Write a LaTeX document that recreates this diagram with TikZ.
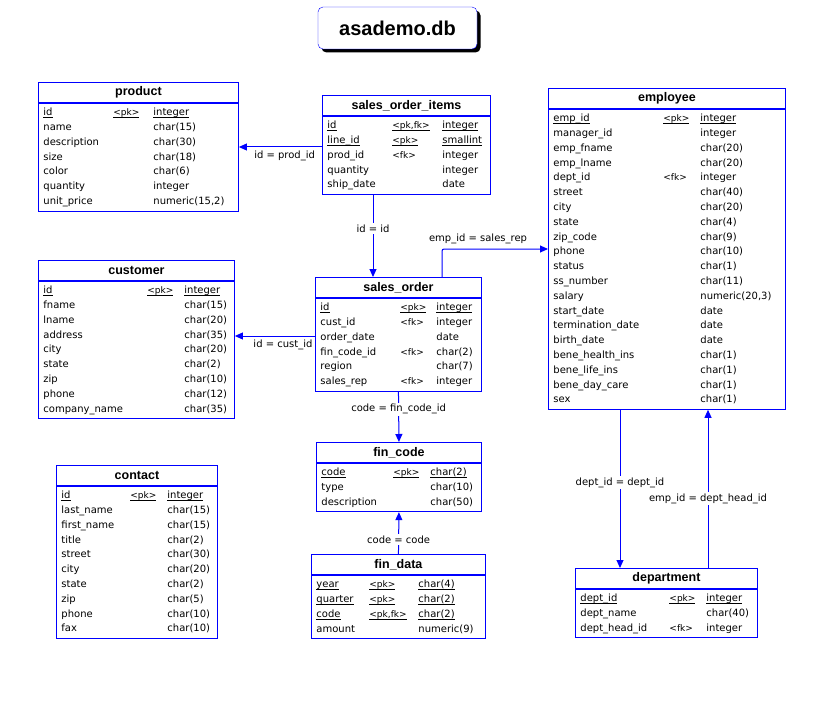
\documentclass[tikz,border=0pt]{standalone}
\usepackage{fontspec}
\setmainfont{DejaVu Sans}
\newfontfamily\headfont{Liberation Sans}
\usepackage{array}
\usepackage{xcolor}
\usepackage{tikz}
\usetikzlibrary{arrows.meta,positioning,shadows}
\definecolor{ErBlue}{HTML}{0000FF}
\setlength\tabcolsep{0pt}
\newcommand\keyfont{\fontsize{9}{14.8}\selectfont}
\newcommand\pk[1]{\underline{\smash{#1}}}

\begin{document}
\begin{tikzpicture}[
  x=1pt,y=-1pt,
  tblhead/.style={draw=ErBlue,line width=0.9pt,anchor=north west,minimum height=20pt,inner sep=0pt,
    font=\headfont\bfseries\fontsize{12.5}{14}\selectfont},
  tblbody/.style={draw=ErBlue,line width=0.9pt,inner xsep=5pt,inner ysep=2pt,font=\fontsize{10}{14.8}\selectfont},
  fk/.style={ErBlue,line width=1pt,-{Triangle[width=7pt,length=8pt]}},
  rel/.style={black,font=\fontsize{10}{12}\selectfont,inner sep=1.5pt},
  cutlbl/.style={rel,fill=white},
  dbname/.style={draw=ErBlue,rounded corners=5pt,fill=white,minimum width=159pt,minimum height=42pt,
    font=\headfont\bfseries\fontsize{20}{24}\selectfont,
    drop shadow={shadow xshift=3.5pt,shadow yshift=-3.5pt,fill=black,opacity=1}}
]
  \useasboundingbox (0,0) rectangle (824,722);

  \node[dbname] (db) at (397.5,28) {asademo.db};

  % product
  \node[tblhead,minimum width=200pt] (product) at (38,82) {product};
  \node[tblbody,below=0pt of product] (product-f) {\begin{tabular}{p{70pt}>{\keyfont}p{40pt}p{80pt}}
    \pk{id} & \pk{<pk>} & \pk{integer}\\
    name & & char(15)\\
    description & & char(30)\\
    size & & char(18)\\
    color & & char(6)\\
    quantity & & integer\\
    unit\_price & & numeric(15,2)
  \end{tabular}};

  % sales_order_items
  \node[tblhead,minimum width=168pt] (items) at (322,95) {sales\_order\_items};
  \node[tblbody,below=0pt of items] (items-f) {\begin{tabular}{p{65pt}>{\keyfont}p{50pt}p{43pt}}
    \pk{id} & \pk{<pk,fk>} & \pk{integer}\\
    \pk{line\_id} & \pk{<pk>} & \pk{smallint}\\
    prod\_id & <fk> & integer\\
    quantity & & integer\\
    ship\_date & & date
  \end{tabular}};

  % employee
  \node[tblhead,minimum width=237pt] (employee) at (548,88) {employee};
  \node[tblbody,below=0pt of employee] (employee-f) {\begin{tabular}{p{110pt}>{\keyfont}p{37pt}p{80pt}}
    \pk{emp\_id} & \pk{<pk>} & \pk{integer}\\
    manager\_id & & integer\\
    emp\_fname & & char(20)\\
    emp\_lname & & char(20)\\
    dept\_id & <fk> & integer\\
    street & & char(40)\\
    city & & char(20)\\
    state & & char(4)\\
    zip\_code & & char(9)\\
    phone & & char(10)\\
    status & & char(1)\\
    ss\_number & & char(11)\\
    salary & & numeric(20,3)\\
    start\_date & & date\\
    termination\_date & & date\\
    birth\_date & & date\\
    bene\_health\_ins & & char(1)\\
    bene\_life\_ins & & char(1)\\
    bene\_day\_care & & char(1)\\
    sex & & char(1)
  \end{tabular}};

  % customer
  \node[tblhead,minimum width=196pt] (customer) at (38,260) {customer};
  \node[tblbody,below=0pt of customer] (customer-f) {\begin{tabular}{p{104pt}>{\keyfont}p{37pt}p{45pt}}
    \pk{id} & \pk{<pk>} & \pk{integer}\\
    fname & & char(15)\\
    lname & & char(20)\\
    address & & char(35)\\
    city & & char(20)\\
    state & & char(2)\\
    zip & & char(10)\\
    phone & & char(12)\\
    company\_name & & char(35)
  \end{tabular}};

  % sales_order
  \node[tblhead,minimum width=166pt] (order) at (315,277) {sales\_order};
  \node[tblbody,below=0pt of order] (order-f) {\begin{tabular}{p{80pt}>{\keyfont}p{36pt}p{40pt}}
    \pk{id} & \pk{<pk>} & \pk{integer}\\
    cust\_id & <fk> & integer\\
    order\_date & & date\\
    fin\_code\_id & <fk> & char(2)\\
    region & & char(7)\\
    sales\_rep & <fk> & integer
  \end{tabular}};

  % fin_code
  \node[tblhead,minimum width=165pt] (fincode) at (316,442) {fin\_code};
  \node[tblbody,below=0pt of fincode] (fincode-f) {\begin{tabular}{p{72pt}>{\keyfont}p{37pt}p{46pt}}
    \pk{code} & \pk{<pk>} & \pk{char(2)}\\
    type & & char(10)\\
    description & & char(50)
  \end{tabular}};

  % fin_data
  \node[tblhead,minimum width=174pt] (findata) at (311,554) {fin\_data};
  \node[tblbody,below=0pt of findata] (findata-f) {\begin{tabular}{p{53pt}>{\keyfont}p{49pt}p{62pt}}
    \pk{year} & \pk{<pk>} & \pk{char(4)}\\
    \pk{quarter} & \pk{<pk>} & \pk{char(2)}\\
    \pk{code} & \pk{<pk,fk>} & \pk{char(2)}\\
    amount & & numeric(9)
  \end{tabular}};

  % contact
  \node[tblhead,minimum width=161pt] (contact) at (56,465) {contact};
  \node[tblbody,below=0pt of contact] (contact-f) {\begin{tabular}{p{69pt}>{\keyfont}p{37pt}p{45pt}}
    \pk{id} & \pk{<pk>} & \pk{integer}\\
    last\_name & & char(15)\\
    first\_name & & char(15)\\
    title & & char(2)\\
    street & & char(30)\\
    city & & char(20)\\
    state & & char(2)\\
    zip & & char(5)\\
    phone & & char(10)\\
    fax & & char(10)
  \end{tabular}};

  % department
  \node[tblhead,minimum width=182pt] (dept) at (575,568) {department};
  \node[tblbody,below=0pt of dept] (dept-f) {\begin{tabular}{p{89pt}>{\keyfont}p{37pt}p{46pt}}
    \pk{dept\_id} & \pk{<pk>} & \pk{integer}\\
    dept\_name & & char(40)\\
    dept\_head\_id & <fk> & integer
  \end{tabular}};

  % references
  \draw[fk] (items-f.west |- 0,147) -- node[rel,below=2pt,pos=0.45] {id = prod\_id} (product-f.east |- 0,147);
  \draw[fk] (items-f.south -| 373,0) -- node[cutlbl,pos=0.41] {id = id} (order.north -| 373,0);
  \draw[fk] (order-f.west |- 0,336) -- node[rel,below=2pt,pos=0.4] {id = cust\_id} (customer-f.east |- 0,336);
  \draw[fk,rounded corners=2pt] (order.north -| 442,0) |- node[rel,above=3pt,pos=0.67] {emp\_id = sales\_rep} (employee-f.west |- 0,249);
  \draw[fk] (order-f.south) -- node[cutlbl,pos=0.35] {code = fin\_code\_id} (fincode.north);
  \draw[fk] (findata.north) -- node[cutlbl,pos=0.35] {code = code} (fincode-f.south);
  \draw[fk] (employee-f.south -| 620,0) -- node[cutlbl,pos=0.46] {dept\_id = dept\_id} (dept.north -| 620,0);
  \draw[fk] (dept.north -| 708,0) -- node[cutlbl,pos=0.44] {emp\_id = dept\_head\_id} (employee-f.south -| 708,0);
\end{tikzpicture}
\end{document}
